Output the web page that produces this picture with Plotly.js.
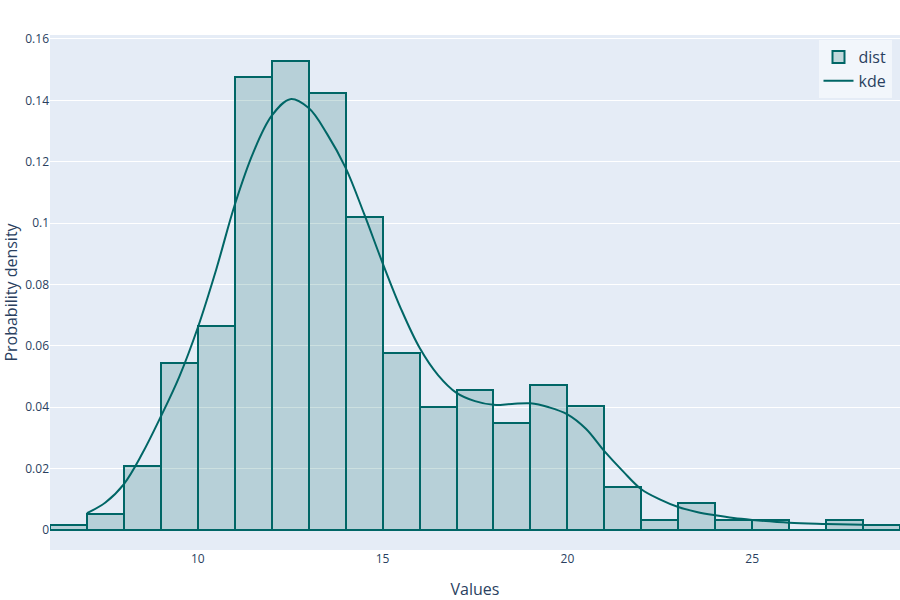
<!DOCTYPE html>
<html>
<head>
<meta charset="utf-8">
<script src="https://cdn.plot.ly/plotly-3.0.1.min.js"></script>
<style>html,body{margin:0;padding:0;background:#fff;}#chart{width:900px;height:600px;}</style>
</head>
<body>
<div id="chart"></div>
<script>
// Histogram bins (centers, width 1) and densities
const binCenters = [6.5, 7.5, 8.5, 9.5, 10.5, 11.5, 12.5, 13.5, 14.5, 15.5, 16.5, 17.5, 18.5, 19.5, 20.5, 21.5, 22.5, 23.5, 24.5, 25.5, 26.5, 27.5, 28.5];
const binDensity = [0.0017, 0.0052, 0.0209, 0.0544, 0.0665, 0.1475, 0.1528, 0.1423, 0.1019, 0.0577, 0.0402, 0.0455, 0.0349, 0.0472, 0.0403, 0.0139, 0.0034, 0.0087, 0.0034, 0.0034, 0, 0.0034, 0.0017];

// KDE curve
const kdeX = [7, 7.5, 8, 8.5, 9, 9.5, 10, 10.5, 11, 11.5, 12, 12.5, 13, 13.5, 14, 14.5, 15, 15.5, 16, 16.5, 17, 17.5, 18, 18.5, 19, 19.5, 20, 20.5, 21, 21.5, 22, 22.5, 23, 23.5, 24, 24.5, 25, 26, 27, 28];
const kdeY = [0.0055, 0.009, 0.015, 0.025, 0.037, 0.050, 0.066, 0.085, 0.106, 0.123, 0.135, 0.1404, 0.1375, 0.129, 0.118, 0.103, 0.087, 0.072, 0.0594, 0.0505, 0.0447, 0.042, 0.0408, 0.0411, 0.0413, 0.040, 0.0377, 0.033, 0.0257, 0.0192, 0.0133, 0.010, 0.0075, 0.0059, 0.0048, 0.0039, 0.0033, 0.0024, 0.0020, 0.0017];

const teal = 'rgb(0,102,102)';

const traces = [
  {
    type: 'bar', name: 'dist', x: binCenters, y: binDensity, width: 1,
    marker: {color: 'rgba(0,102,102,0.2)', line: {color: teal, width: 2}}
  },
  {
    type: 'scatter', mode: 'lines', name: 'kde', x: kdeX, y: kdeY,
    line: {color: teal, width: 2, shape: 'spline'}
  }
];

const layout = {
  width: 900, height: 600,
  margin: {l: 50, r: 0, t: 35, b: 50},
  paper_bgcolor: 'white', plot_bgcolor: '#E5ECF6',
  font: {family: '"Open Sans", verdana, arial, sans-serif', color: '#2a3f5f', size: 12},
  bargap: 0,
  showlegend: true,
  legend: {x: 0.99, xanchor: 'right', y: 0.99, yanchor: 'top', bgcolor: 'rgba(255,255,255,0.5)', font: {size: 16}},
  xaxis: {
    range: [6, 29], title: {text: 'Values', font: {size: 16}},
    gridcolor: 'white', showgrid: false, zeroline: false, ticks: '', tickvals: [10, 15, 20, 25]
  },
  yaxis: {
    range: [-0.0065, 0.1613], title: {text: 'Probability density', font: {size: 16}},
    gridcolor: 'white', gridwidth: 1, zeroline: false, dtick: 0.02, ticks: ''
  }
};

Plotly.newPlot('chart', traces, layout, {displayModeBar: false});
</script>
</body>
</html>
